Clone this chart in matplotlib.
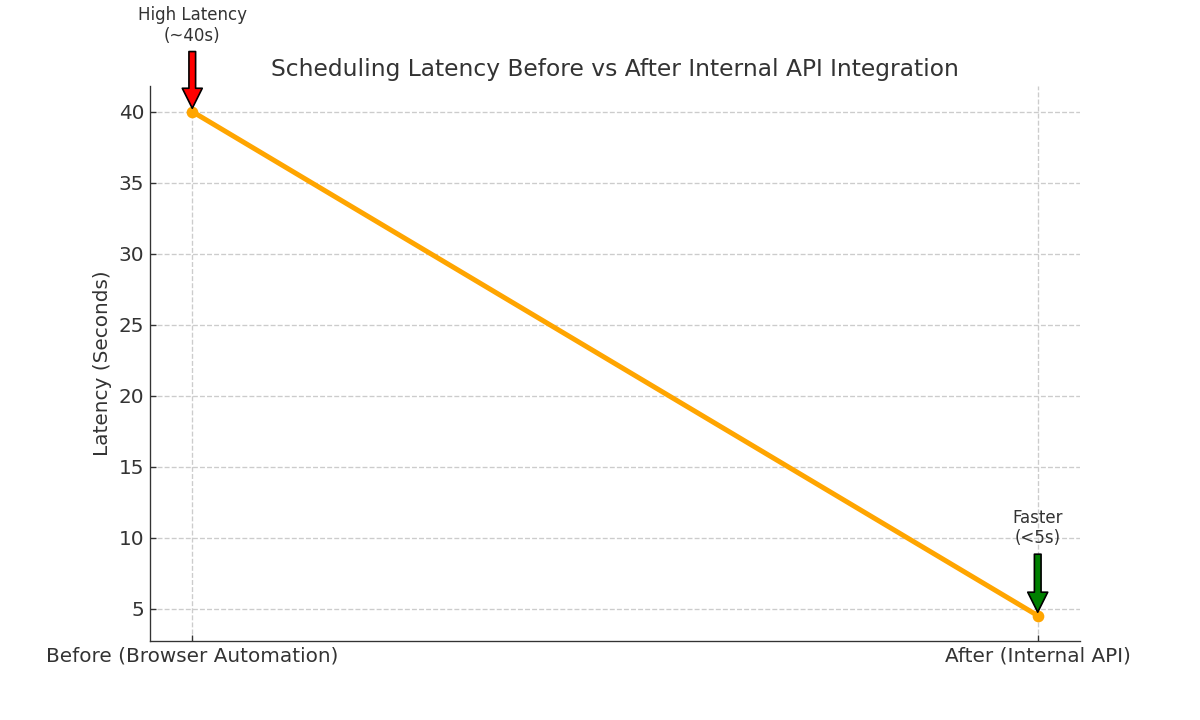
import matplotlib.pyplot as plt

# data
stages = ["Before (Browser Automation)", "After (Internal API)"]
latency = [40, 4.5]

plt.rcParams['text.color'] = '#333333'
plt.rcParams['axes.titlecolor'] = '#333333'
plt.rcParams['axes.labelcolor'] = '#333333'

fig, ax = plt.subplots(figsize=(10, 6), dpi=120)

x = list(range(len(stages)))
ax.plot(x, latency, marker='o', color='#FFA500', linewidth=3, markersize=6)

ax.set_xticks(x)
ax.set_xticklabels(stages, fontsize=12)
ax.tick_params(axis='both', direction='in', labelsize=12, colors='#333333')
ax.set_ylabel("Latency (Seconds)", fontsize=12)
ax.set_title("Scheduling Latency Before vs After Internal API Integration", fontsize=14)
ax.grid(True, linestyle='--', color='#cccccc', linewidth=0.8)

ax.spines['top'].set_visible(False)
ax.spines['right'].set_visible(False)
for s in ['left', 'bottom']:
    ax.spines[s].set_color('#333333')

# annotations
ax.annotate("High Latency\n(~40s)", xy=(x[0], latency[0]), xytext=(x[0], 44.7),
            ha='center', va='bottom', fontsize=10, annotation_clip=False,
            arrowprops=dict(facecolor='red', shrink=0.05))
ax.annotate("Faster\n(<5s)", xy=(x[1], latency[1]), xytext=(x[1], 9.3),
            ha='center', va='bottom', fontsize=10,
            arrowprops=dict(facecolor='green', shrink=0.05))

plt.savefig("out.png")
